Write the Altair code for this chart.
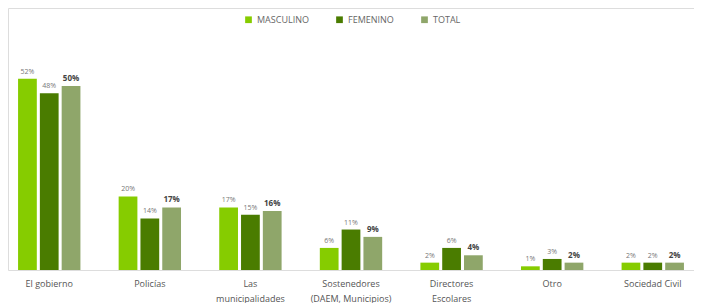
import altair as alt
import pandas as pd

categories = ["El gobierno", "Policías", "Las|municipalidades", "Sostenedores|(DAEM, Municipios)",
              "Directores|Escolares", "Otro", "Sociedad Civil"]
series = ["MASCULINO", "FEMENINO", "TOTAL"]
masculino = [52, 20, 17, 6, 2, 1, 2]
femenino = [48, 14, 15, 11, 6, 3, 2]
total = [50, 17, 16, 9, 4, 2, 2]
colors = ["#86CC00", "#4A7C00", "#8FA66A"]

rows = []
for i, c in enumerate(categories):
    for s, vals in zip(series, [masculino, femenino, total]):
        rows.append({"cat": c, "serie": s, "val": vals[i], "lbl": f"{vals[i]}%"})
df = pd.DataFrame(rows)

xenc = alt.X("cat:N", sort=categories, title=None,
             scale=alt.Scale(paddingInner=0.38, paddingOuter=0.1),
             axis=alt.Axis(labelExpr="split(datum.value, '|')", labelAngle=0, domain=False,
                           ticks=False, labelFontSize=9, labelColor="#555555",
                           labelPadding=9, labelLimit=200, labelLineHeight=15,
                           labelFont="Open Sans"))
xoff = alt.XOffset("serie:N", sort=series, scale=alt.Scale(paddingInner=0.14))
yenc = alt.Y("val:Q", axis=None, scale=alt.Scale(domain=[0, 71.2], nice=False))

base = alt.Chart(df).encode(x=xenc, xOffset=xoff, y=yenc)

bars = base.mark_bar().encode(
    color=alt.Color("serie:N", sort=series,
                    scale=alt.Scale(domain=series, range=colors),
                    legend=alt.Legend(title=None, orient="none", direction="horizontal",
                                      legendX=236, legendY=7, symbolType="square",
                                      symbolSize=45, labelFontSize=9, labelColor="#666666",
                                      columnPadding=26, labelFont="Open Sans",
                                      symbolStrokeWidth=0))
)

txt_thin = base.transform_filter(alt.datum.serie != "TOTAL").mark_text(
    dy=-7, fontSize=7, color="#777777", font="Open Sans").encode(text="lbl:N")
txt_bold = base.transform_filter(alt.datum.serie == "TOTAL").mark_text(
    dy=-7, fontSize=8, fontWeight="bold", color="#444444", font="Open Sans").encode(text="lbl:N")

chart = alt.layer(bars, txt_thin, txt_bold).properties(
    width=686, height=262, autosize=alt.AutoSizeParams(type="none"),
    padding={"left": 0, "top": 0, "right": 0, "bottom": 40}
).configure_view(stroke=None).configure(background="white")

chart.save("out.html", embed_options={"renderer": "svg", "actions": False})
